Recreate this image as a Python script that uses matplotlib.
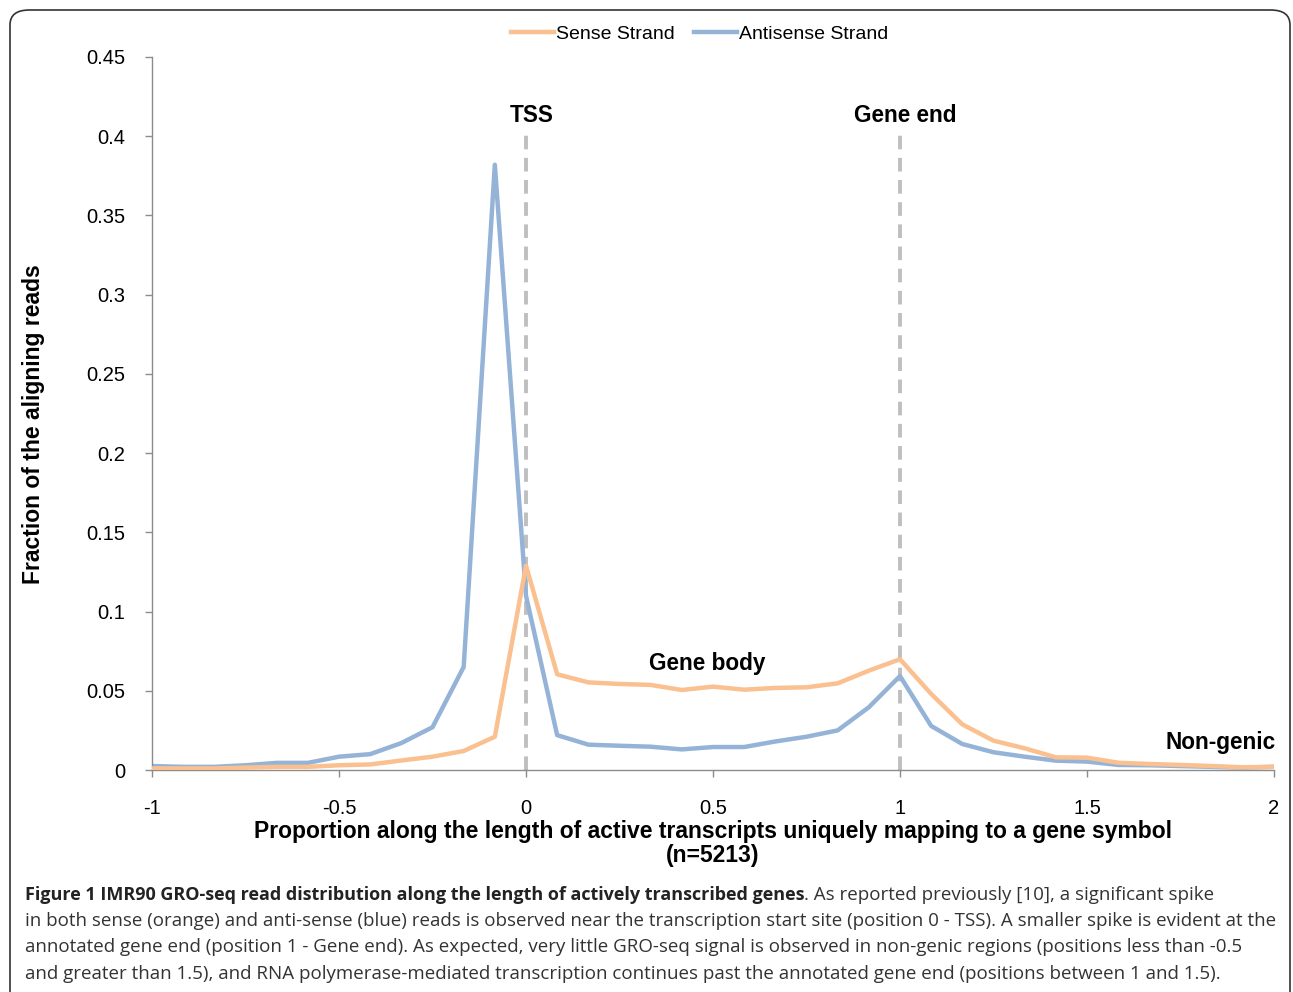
import numpy as np
import matplotlib.pyplot as plt
from matplotlib.patches import FancyBboxPatch

# positions along the transcript, in twelfths from -1 to 2
positions = np.arange(-12, 25) / 12.0

sense = [0.001, 0.001, 0.001, 0.0015, 0.002, 0.002, 0.003, 0.0035, 0.006, 0.0084,
         0.012, 0.021, 0.129, 0.0604, 0.0553, 0.0543, 0.0537, 0.0505, 0.0526, 0.0507,
         0.0518, 0.0522, 0.0547, 0.0627, 0.0699, 0.048, 0.0288, 0.0185, 0.0137, 0.008,
         0.0078, 0.0046, 0.0038, 0.0032, 0.0025, 0.0017, 0.002]

antisense = [0.0025, 0.002, 0.002, 0.003, 0.0045, 0.0045, 0.0084, 0.010, 0.017, 0.027,
             0.065, 0.382, 0.11, 0.022, 0.016, 0.0153, 0.0147, 0.013, 0.0145, 0.0145,
             0.018, 0.021, 0.025, 0.0396, 0.0593, 0.0278, 0.0164, 0.0112, 0.0084, 0.0059,
             0.0053, 0.0032, 0.003, 0.0025, 0.002, 0.0015, 0.002]

marker_x = [0, 1]
marker_names = ["TSS", "Gene end"]

x_ticks = [-1, -0.5, 0, 0.5, 1, 1.5, 2]
x_tick_labels = ["-1", "-0.5", "0", "0.5", "1", "1.5", "2"]
y_ticks = [0, 0.05, 0.1, 0.15, 0.2, 0.25, 0.3, 0.35, 0.4, 0.45]
y_tick_labels = ["0", "0.05", "0.1", "0.15", "0.2", "0.25", "0.3", "0.35", "0.4", "0.45"]

ORANGE = "#FAC090"
BLUE = "#95B3D7"
GREY = "#BFBFBF"
AXIS = "#8C8C8C"

plt.rcParams["font.family"] = ["Liberation Sans", "DejaVu Sans"]

fig = plt.figure(figsize=(12.93, 9.92), dpi=100)

# rounded frame around the figure panel
frame = FancyBboxPatch((10 / 1293, -0.05), 1280 / 1293, 1 - 10 / 992 + 0.05,
                       boxstyle="round,pad=0,rounding_size=0.015",
                       transform=fig.transFigure, fill=False,
                       edgecolor="#333333", linewidth=1.2)
fig.patches.append(frame)

ax = fig.add_axes([152 / 1293, 1 - 770 / 992, (1274 - 152) / 1293, (770 - 57) / 992])

for xm in marker_x:
    ax.vlines(xm, 0, 0.402, color=GREY, linestyle=(0, (3.5, 2.2)), linewidth=2.8, zorder=1)

ax.plot(positions, sense, color=ORANGE, linewidth=3.2, label="Sense Strand", zorder=3)
ax.plot(positions, antisense, color=BLUE, linewidth=3.2, label="Antisense Strand", zorder=2)

ax.set_xlim(-1, 2)
ax.set_ylim(0, 0.45)
ax.set_xticks(x_ticks)
ax.set_xticklabels(x_tick_labels)
ax.set_yticks(y_ticks)
ax.set_yticklabels(y_tick_labels)
ax.tick_params(axis="both", labelsize=14.5, color=AXIS, length=5, width=1)
ax.tick_params(axis="x", pad=16)
ax.tick_params(axis="y", pad=14)

for side in ["top", "right"]:
    ax.spines[side].set_visible(False)
for side in ["left", "bottom"]:
    ax.spines[side].set_color(AXIS)
    ax.spines[side].set_linewidth(1.0)

for xm, name in zip(marker_x, marker_names):
    ax.text(xm + 0.015, 0.413, name, ha="center", va="center",
            fontsize=16.3, fontweight="bold")
ax.text(0.485, 0.067, "Gene body", ha="center", va="center", fontsize=16.3, fontweight="bold")
ax.text(2.005, 0.0175, "Non-genic", ha="right", va="center", fontsize=16.3, fontweight="bold")

ax.set_ylabel("Fraction of the aligning reads", fontsize=16.5, fontweight="bold")
ax.yaxis.set_label_coords(-0.095, 0.485)
ax.set_xlabel("Proportion along the length of active transcripts uniquely mapping to a gene symbol\n(n=5213)",
              fontsize=16.5, fontweight="bold", linespacing=1.1, labelpad=1)

ax.legend(loc="center", bbox_to_anchor=(0.488, 1.032), ncol=2, frameon=False,
          fontsize=14, handlelength=2.2, handletextpad=0.1, columnspacing=1.0)

# caption
caption_bold = "Figure 1 IMR90 GRO-seq read distribution along the length of actively transcribed genes"
caption_lines = [
    ". As reported previously [10], a significant spike",
    "in both sense (orange) and anti-sense (blue) reads is observed near the transcription start site (position 0 - TSS). A smaller spike is evident at the",
    "annotated gene end (position 1 - Gene end). As expected, very little GRO-seq signal is observed in non-genic regions (positions less than -0.5",
    "and greater than 1.5), and RNA polymerase-mediated transcription continues past the annotated gene end (positions between 1 and 1.5).",
]
cap_font = ["Open Sans", "DejaVu Sans"]
cap_size = 13.5
x0 = 25 / 1293
line_y = [895, 921, 947, 974]

t_bold = fig.text(x0, 1 - line_y[0] / 992, caption_bold, fontsize=13.0, fontweight="bold",
                  family=cap_font, va="center", ha="left", color="#222222")
fig.canvas.draw()
bb = t_bold.get_window_extent()
fig.text(bb.x1 / fig.bbox.width, 1 - line_y[0] / 992, caption_lines[0], fontsize=cap_size,
         family=cap_font, va="center", ha="left", color="#333333")
for text, yp in zip(caption_lines[1:], line_y[1:]):
    fig.text(x0, 1 - yp / 992, text, fontsize=cap_size, family=cap_font,
             va="center", ha="left", color="#333333")

fig.savefig("out.png", dpi=100)
